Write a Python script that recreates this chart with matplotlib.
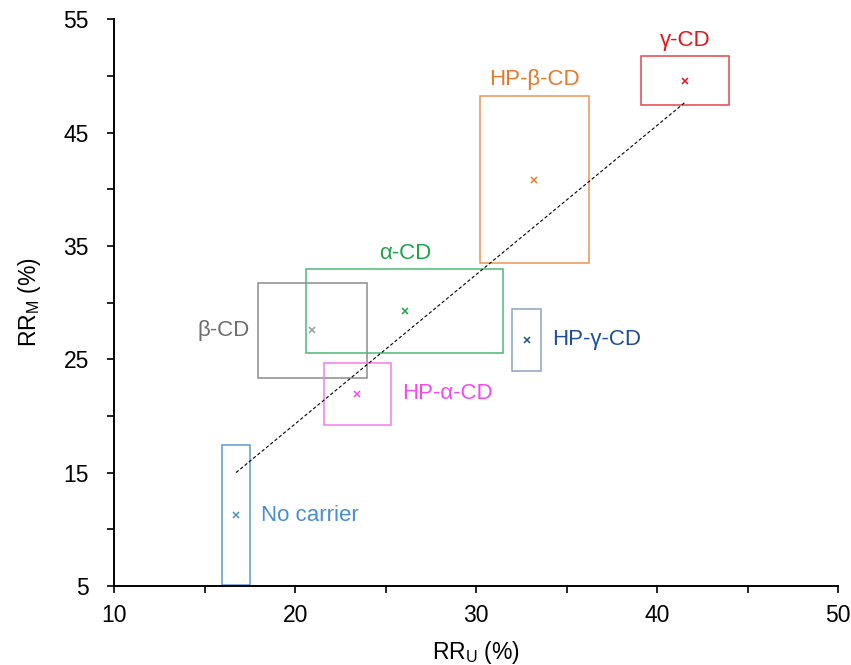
import numpy as np
import matplotlib
matplotlib.use("Agg")
import matplotlib.pyplot as plt
from matplotlib.patches import Rectangle

plt.rcParams['font.family'] = ['Liberation Sans', 'DejaVu Sans']

# carriers: mean RR_U, mean RR_M and the half widths of the boxes
names = ["No carrier", "β-CD", "α-CD", "HP-β-CD", "γ-CD", "HP-α-CD", "HP-γ-CD"]
rr_u = [16.74, 20.96, 26.07, 33.2, 41.53, 23.43, 32.79]
rr_m = [11.25, 27.55, 29.26, 40.86, 49.57, 21.94, 26.70]
err_u = [0.75, 3.03, 5.44, 3.01, 2.42, 1.86, 0.81]
err_m = [6.2, 4.21, 3.69, 7.39, 2.17, 2.77, 2.74]
label_side = ["right", "left", "top", "top", "top", "right", "right"]
text_col = ["#4A8ED0", "#6E6E6E", "#1FA34A", "#E8782C", "#E4141C", "#F548EF", "#1F4E96"]
box_col = ["#5B9BD5", "#8C8C8C", "#4DB874", "#EC9354", "#E8434B", "#F57AF0", "#8CA3BE"]
mark_col = ["#4A8ED0", "#9A9A9A", "#1FA34A", "#E8782C", "#E4141C", "#F548EF", "#1F4E96"]

fig = plt.figure(figsize=(8.51, 6.65), dpi=100)
ax = fig.add_axes([0.134, 0.119, 0.851, 0.852])

for i in range(len(names)):
    ax.add_patch(Rectangle((rr_u[i] - err_u[i], rr_m[i] - err_m[i]), 2 * err_u[i], 2 * err_m[i],
                           fill=False, edgecolor=box_col[i], lw=1.1, zorder=2))
    ax.plot(rr_u[i], rr_m[i], marker="x", ls="none", color=mark_col[i], ms=4.5, mew=1.1, zorder=3)
    if label_side[i] == "top":
        ax.annotate(names[i], (rr_u[i], rr_m[i] + err_m[i]), xytext=(0, 4), textcoords="offset points",
                    ha="center", va="bottom", color=text_col[i], fontsize=16)
    elif label_side[i] == "left":
        ax.annotate(names[i], (rr_u[i] - err_u[i], rr_m[i]), xytext=(-6, 0), textcoords="offset points",
                    ha="right", va="center", color=text_col[i], fontsize=16)
    else:
        ax.annotate(names[i], (rr_u[i] + err_u[i], rr_m[i]), xytext=(8, 0), textcoords="offset points",
                    ha="left", va="center", color=text_col[i], fontsize=16)

# linear trend through all carriers
k, b = np.polyfit(rr_u, rr_m, 1)
xx = np.array([min(rr_u), max(rr_u)])
ax.plot(xx, k * xx + b, color="black", lw=0.8, dashes=(3, 2), zorder=4)

ax.set_xlim(10, 50)
ax.set_ylim(5, 55)
ax.set_xticks([10, 20, 30, 40, 50])
ax.set_xticks([15, 25, 35, 45], minor=True)
ax.set_yticks([5, 15, 25, 35, 45, 55])
ax.set_yticks([10, 20, 30, 40, 50], minor=True)
ax.tick_params(which="both", direction="out", length=5, width=1.2, labelsize=16.5, color="black")
ax.tick_params(axis="y", pad=13)
ax.tick_params(axis="x", pad=8)
for s in ["top", "right"]:
    ax.spines[s].set_visible(False)
for s in ["left", "bottom"]:
    ax.spines[s].set_linewidth(1.4)

ax.set_xlabel("RR$_\\mathregular{U}$ (%)", fontsize=16.5)
ax.set_ylabel("RR$_\\mathregular{M}$ (%)", fontsize=16.5)
ax.xaxis.set_label_coords(0.5, -0.093)
ax.yaxis.set_label_coords(-0.098, 0.5)

fig.savefig("out.png", dpi=100)
